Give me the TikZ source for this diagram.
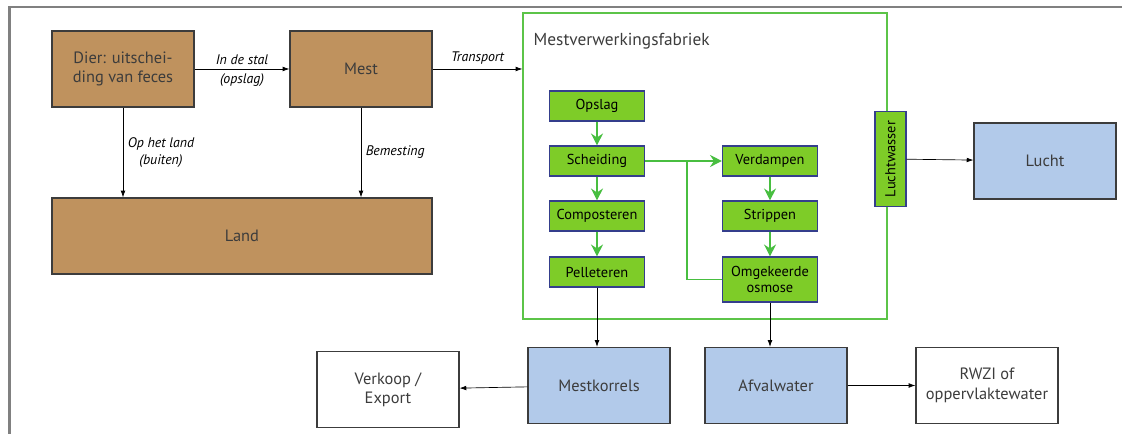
\documentclass[tikz,border=0pt]{standalone}
\usepackage{fontspec}
\setmainfont{PT Sans}
\usetikzlibrary{positioning, calc, arrows.meta}

\definecolor{bruin}{RGB}{191,146,94}
\definecolor{lichtblauw}{RGB}{178,202,234}
\definecolor{loofgroen}{RGB}{126,204,40}
\definecolor{kadergroen}{RGB}{92,196,72}
\definecolor{pijlgroen}{RGB}{72,190,64}
\definecolor{randblauw}{RGB}{52,62,140}
\definecolor{tekstgrijs}{RGB}{60,60,60}

\begin{document}
\begin{tikzpicture}[x=0.75pt, y=-0.75pt,
		box/.style={draw=tekstgrijs, line width=0.9pt, minimum width=106.5pt, minimum height=57pt, align=center, text=tekstgrijs, font=\fontsize{12.3}{14.5}\selectfont},
		bruinbox/.style={box, fill=bruin},
		blauwbox/.style={box, fill=lichtblauw},
		witbox/.style={box, fill=white},
		stap/.style={draw=randblauw, line width=0.8pt, fill=loofgroen, minimum width=71.25pt, minimum height=22.5pt, align=center, font=\fontsize{10.8}{12.5}\selectfont},
		pijl/.style={-{Latex[length=5pt, width=3.5pt]}, line width=0.5pt},
		groenpijl/.style={-{Stealth[length=9pt, width=9pt, inset=3pt]}, draw=pijlgroen, line width=0.9pt},
		groenlijn/.style={draw=pijlgroen, line width=0.9pt},
		label/.style={font=\itshape\fontsize{10.4}{12.5}\selectfont, align=center}]
			\useasboundingbox (0,0) rectangle (1122,434);
			\draw [line width=2.2pt, color=gray] (9.5,434) |- (1122,7);
			
			\node (dier) [bruinbox] at (123,69) {Dier: uitschei-\\ding van feces};
			\node (mest) [bruinbox] at (361,69) {Mest};
			\node (land) [bruinbox, minimum width=285pt] at (242,236) {Land};
			
			\node (fabriek) [draw=kadergroen, line width=0.9pt, minimum width=273pt, minimum height=229.5pt] at (705,166) {};
			\node (fabrieknaam) [anchor=north west, text=tekstgrijs, font=\fontsize{13}{15}\selectfont] at (529,29) {Mestverwerkingsfabriek};
			
			\node (opslag) [stap] at (597,106) {Opslag};
			\node (scheiding) [stap] at (597,161) {Scheiding};
			\node (composteren) [stap] at (597,216) {Composteren};
			\node (pelleteren) [stap] at (597,272) {Pelleteren};
			\node (verdampen) [stap] at (770,161) {Verdampen};
			\node (strippen) [stap] at (770,216) {Strippen};
			\node (osmose) [stap, minimum height=33.75pt] at (770,279.5) {Omgekeerde\\[-1pt]osmose};
			\node (luchtwasser) [stap, rotate=90, minimum height=23.25pt] at (890.5,159) {Luchtwasser};
			\coordinate (knik) at (687,161);
			
			\node (lucht) [blauwbox] at (1045,161) {Lucht};
			\node (mestkorrels) [blauwbox] at (599,385.5) {Mestkorrels};
			\node (afvalwater) [blauwbox] at (776,385.5) {Afvalwater};
			\node (verkoop) [witbox] at (388,389.5) {Verkoop /\\Export};
			\node (rwzi) [witbox] at (987,385.5) {RWZI of\\oppervlaktewater};
			
			\draw [pijl] (dier) -- (mest) node[midway, above, label] {In de stal} node[midway, below, label] {(opslag)};
			\draw [pijl] (dier) -- (dier |- land.north) node[midway, right, label] {Op het land\\(buiten)};
			\draw [pijl] (mest) -- (mest |- land.north) node[midway, right, label] {Bemesting};
			\draw [pijl] (mest) -- (mest -| fabriek.west) node[midway, above, label] {Transport};
			
			\draw [groenpijl] (opslag) -- (scheiding);
			\draw [groenpijl] (scheiding) -- (composteren);
			\draw [groenpijl] (composteren) -- (pelleteren);
			\draw [groenpijl] (scheiding) -- (verdampen);
			\draw [groenpijl] (verdampen) -- (strippen);
			\draw [groenpijl] (strippen) -- (osmose);
			\draw [groenlijn] (osmose) -| (knik);
			
			\draw [pijl] (luchtwasser) -- (lucht);
			\draw [pijl] (pelleteren.south) -- (pelleteren.south |- mestkorrels.north);
			\draw [pijl] (osmose.south) -- (osmose.south |- afvalwater.north);
			\draw [pijl] (mestkorrels) -- (verkoop);
			\draw [pijl] (afvalwater) -- (rwzi);
		\end{tikzpicture}
\end{document}
